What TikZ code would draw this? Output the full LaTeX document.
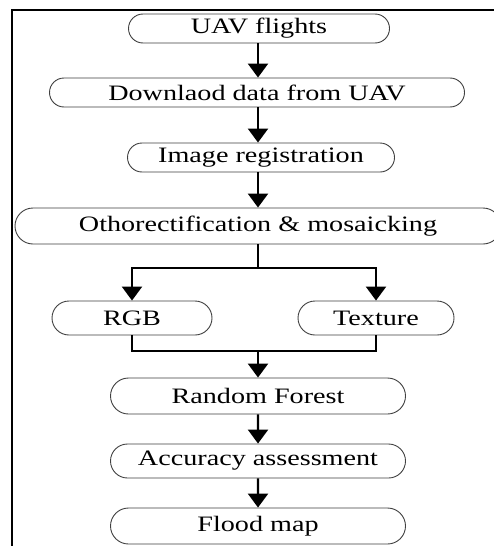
\documentclass[tikz,border=0pt]{standalone}
\usepackage{fontspec}
\setmainfont{Liberation Serif}
\usetikzlibrary{shapes.misc,arrows.meta}
\newcommand\wt[1]{\scalebox{1.28}[1]{#1}}
\tikzset{
  flowbox/.style={rounded rectangle, draw=black!75, line width=0.9pt, fill=white,
    inner sep=0pt, font=\fontsize{22}{25}\selectfont, text=black},
  arr/.style={line width=2.4pt, -{Triangle[width=20pt,length=14pt]}},
  conn/.style={line width=2.4pt},
}
\begin{document}
\begin{tikzpicture}[x=1pt,y=-1pt]
\useasboundingbox (0,0) rectangle (494,546);
\fill[white] (0,0) rectangle (494,546);
\draw[line width=2pt] (12,547) -- (12,10) -- (495,10);

\node[flowbox, minimum width=261pt, minimum height=29pt] (uav) at (259,28.5) {\wt{UAV flights}};
\node[flowbox, minimum width=415pt, minimum height=29pt] (dl) at (257,92.5) {\wt{Downlaod data from UAV}};
\node[flowbox, minimum width=267pt, minimum height=29pt] (reg) at (261,157.5) {\wt{Image registration}};
\node[flowbox, minimum width=486pt, minimum height=36pt] (orth) at (258,226) {\wt{Othorectification \& mosaicking}};
\node[flowbox, minimum width=160pt, minimum height=34pt] (rgb) at (132,318) {\wt{RGB}};
\node[flowbox, minimum width=156pt, minimum height=34pt] (tex) at (376,318) {\wt{Texture}};
\node[flowbox, minimum width=295pt, minimum height=36pt] (rf) at (258,396) {\wt{Random Forest}};
\node[flowbox, minimum width=295pt, minimum height=34pt] (acc) at (258,461) {\wt{Accuracy assessment}};
\node[flowbox, minimum width=295pt, minimum height=36pt] (fm) at (258,526) {\wt{Flood map}};

\coordinate (spine) at (258,0);
\coordinate (split) at (258,268);
\coordinate (join) at (258,351);

\draw[arr] (uav.south -| spine) -- (dl.north -| spine);
\draw[arr] (dl.south -| spine) -- (reg.north -| spine);
\draw[arr] (reg.south -| spine) -- (orth.north -| spine);
\draw[conn] (orth.south) -- (split);
\draw[arr] (split) -| (rgb.north);
\draw[arr] (split) -| (tex.north);
\draw[conn] (rgb.south) |- (join) -| (tex.south);
\draw[arr] (join) -- (rf.north);
\draw[arr] (rf) -- (acc);
\draw[arr] (acc) -- (fm);
\end{tikzpicture}
\end{document}
